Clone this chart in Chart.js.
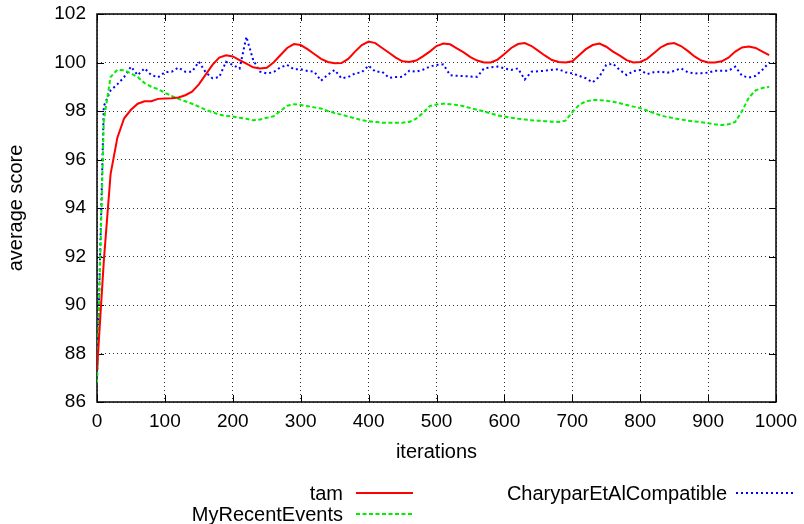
<!DOCTYPE html>
<html>
<head>
<meta charset="utf-8">
<title>average score vs iterations</title>
<script src="https://cdn.jsdelivr.net/npm/chart.js@4.4.1/dist/chart.umd.min.js"></script>
<style>
  html, body { margin: 0; padding: 0; background: #fff; }
  #wrap { width: 804px; height: 524px; }
</style>
</head>
<body>
<div id="wrap"><canvas id="chart" width="804" height="524"></canvas></div>
<script>
// iterations (x values)
const iterations = [
  0, 10, 20, 30, 40, 50, 60, 70, 80, 90,
  100, 110, 120, 130, 140, 150, 160, 170, 180, 190,
  200, 210, 220, 230, 240, 250, 260, 270, 280, 290,
  300, 310, 320, 330, 340, 350, 360, 370, 380, 390,
  400, 410, 420, 430, 440, 450, 460, 470, 480, 490,
  500, 510, 520, 530, 540, 550, 560, 570, 580, 590,
  600, 610, 620, 630, 640, 650, 660, 670, 680, 690,
  700, 710, 720, 730, 740, 750, 760, 770, 780, 790,
  800, 810, 820, 830, 840, 850, 860, 870, 880, 890,
  900, 910, 920, 930, 940, 950, 960, 970, 980, 990
];

const tam = [
  87.3, 91.8, 95.4, 96.9, 97.7, 98.05, 98.3, 98.4, 98.4, 98.5,
  98.52, 98.53, 98.56, 98.65, 98.8, 99.1, 99.5, 99.9, 100.2, 100.3,
  100.25, 100.1, 99.95, 99.8, 99.75, 99.78, 100.0, 100.3, 100.6, 100.76,
  100.72, 100.55, 100.35, 100.15, 100.02, 99.97, 99.98, 100.15, 100.45, 100.72,
  100.86, 100.8, 100.6, 100.4, 100.2, 100.05, 100.02, 100.08, 100.25, 100.45,
  100.68, 100.78, 100.75, 100.58, 100.42, 100.22, 100.08, 100.0, 100.0, 100.12,
  100.35, 100.6, 100.76, 100.8, 100.68, 100.48, 100.28, 100.1, 100.02, 100.0,
  100.05, 100.3, 100.55, 100.72, 100.78, 100.65, 100.45, 100.28, 100.1, 100.0,
  100.02, 100.15, 100.38, 100.62, 100.76, 100.8, 100.68, 100.48, 100.25, 100.08,
  100.0, 100.0, 100.05, 100.2, 100.45, 100.62, 100.66, 100.6, 100.45, 100.3
];

const myRecentEvents = [
  86.8, 97.6, 99.4, 99.7, 99.68, 99.55, 99.4, 99.15, 99.0, 98.9,
  98.75, 98.62, 98.5, 98.4, 98.3, 98.18, 98.05, 97.95, 97.85, 97.8,
  97.77, 97.72, 97.68, 97.62, 97.65, 97.72, 97.78, 98.0, 98.22, 98.28,
  98.25, 98.2, 98.15, 98.1, 98.0, 97.92, 97.85, 97.77, 97.7, 97.62,
  97.58, 97.55, 97.52, 97.52, 97.52, 97.52, 97.55, 97.68, 97.92, 98.2,
  98.27, 98.3, 98.28, 98.25, 98.2, 98.12, 98.05, 97.98, 97.9, 97.82,
  97.77, 97.72, 97.68, 97.65, 97.62, 97.6, 97.58, 97.56, 97.55, 97.6,
  97.95, 98.25, 98.4, 98.45, 98.45, 98.42, 98.38, 98.32, 98.25, 98.18,
  98.12, 98.02, 97.92, 97.82, 97.75, 97.7, 97.65, 97.6, 97.57, 97.54,
  97.5, 97.45, 97.42, 97.45, 97.55, 98.0, 98.55, 98.85, 98.95, 99.0
];

const charyparEtAlCompatible = [
  86.9, 98.2, 98.85, 99.1, 99.4, 99.83, 99.48, 99.76, 99.48, 99.39,
  99.6, 99.62, 99.79, 99.62, 99.62, 100.03, 99.6, 99.35, 99.4, 100.03,
  99.9, 99.75, 101.06, 100.1, 99.62, 99.55, 99.6, 99.8, 99.9, 99.72,
  99.72, 99.65, 99.62, 99.25, 99.5, 99.69, 99.35, 99.4, 99.55, 99.6,
  99.87, 99.62, 99.62, 99.37, 99.4, 99.41, 99.66, 99.62, 99.7, 99.83,
  99.9, 99.92, 99.48, 99.45, 99.44, 99.42, 99.41, 99.76, 99.8, 99.83,
  99.76, 99.69, 99.76, 99.3, 99.62, 99.64, 99.66, 99.7, 99.72, 99.6,
  99.55, 99.45, 99.35, 99.18, 99.42, 99.9, 99.95, 99.69, 99.48, 99.65,
  99.69, 99.52, 99.6, 99.62, 99.58, 99.65, 99.76, 99.6, 99.55, 99.56,
  99.58, 99.66, 99.66, 99.66, 99.83, 99.45, 99.38, 99.45, 99.7, 100.0
];

const xTicks = [0, 100, 200, 300, 400, 500, 600, 700, 800, 900, 1000];
const yTicks = [86, 88, 90, 92, 94, 96, 98, 100, 102];

const FONT = '"Liberation Sans", Arial, sans-serif';

const series = [
  { label: 'tam', values: tam, color: '#ff0000', dash: [], width: 2 },
  { label: 'MyRecentEvents', values: myRecentEvents, color: '#00ee00', dash: [4, 2.5], width: 2 },
  { label: 'CharyparEtAlCompatible', values: charyparEtAlCompatible, color: '#0000ff', dash: [2, 3], width: 2 }
];

function toPoints(values) {
  return values.map((v, i) => ({ x: iterations[i], y: v }));
}

// gnuplot-like frame with inward ticks on all four sides
const framePlugin = {
  id: 'frame',
  beforeDatasetsDraw(chart) {
    const { ctx, chartArea: a, scales } = chart;
    ctx.save();
    ctx.strokeStyle = '#000';
    ctx.lineWidth = 1;
    ctx.setLineDash([]);
    ctx.beginPath();
    xTicks.forEach(t => {
      const px = Math.round(scales.x.getPixelForValue(t)) + 0.5;
      ctx.moveTo(px, a.bottom); ctx.lineTo(px, a.bottom - 7);
      ctx.moveTo(px, a.top); ctx.lineTo(px, a.top + 7);
    });
    yTicks.forEach(t => {
      const py = Math.round(scales.y.getPixelForValue(t)) + 0.5;
      ctx.moveTo(a.left, py); ctx.lineTo(a.left + 7, py);
      ctx.moveTo(a.right, py); ctx.lineTo(a.right - 7, py);
    });
    ctx.stroke();
    ctx.lineWidth = 1.5;
    ctx.strokeRect(a.left, a.top, a.right - a.left, a.bottom - a.top);
    ctx.restore();
  }
};

// legend in gnuplot style: text right aligned, then a line sample
const legendPlugin = {
  id: 'gnuLegend',
  afterDraw(chart) {
    const { ctx } = chart;
    const spots = [
      { textRight: 343, y: 494, x1: 356, x2: 413 },
      { textRight: 343, y: 515, x1: 356, x2: 413 },
      { textRight: 727, y: 494, x1: 736, x2: 793 }
    ];
    ctx.save();
    ctx.font = '20px ' + FONT;
    ctx.textAlign = 'right';
    ctx.textBaseline = 'middle';
    series.forEach((s, i) => {
      const p = spots[i];
      ctx.fillStyle = '#000';
      ctx.fillText(s.label, p.textRight, p.y);
      ctx.strokeStyle = s.color;
      ctx.lineWidth = s.width;
      ctx.setLineDash(s.dash);
      ctx.beginPath();
      ctx.moveTo(p.x1, p.y - 1);
      ctx.lineTo(p.x2, p.y - 1);
      ctx.stroke();
    });
    ctx.restore();
  }
};

const ctx = document.getElementById('chart').getContext('2d');
new Chart(ctx, {
  type: 'line',
  data: {
    datasets: series.map(s => ({
      label: s.label,
      data: toPoints(s.values),
      borderColor: s.color,
      borderWidth: s.width,
      borderDash: s.dash,
      pointRadius: 0,
      tension: 0,
      fill: false
    }))
  },
  options: {
    responsive: false,
    animation: false,
    layout: { padding: { left: 0, top: 14, right: 28, bottom: 60 } },
    plugins: {
      legend: { display: false },
      tooltip: { enabled: false }
    },
    scales: {
      x: {
        type: 'linear',
        min: 0,
        max: 1000,
        afterFit: scale => {
          scale.height = 62;
          scale.paddingLeft = 0;
          scale.paddingRight = 0;
        },
        afterBuildTicks: scale => { scale.ticks = xTicks.map(v => ({ value: v })); },
        ticks: {
          color: '#000', padding: 8, font: { family: FONT, size: 19 },
          callback: v => String(v)
        },
        grid: { color: '#333', lineWidth: 1, drawTicks: false },
        border: { display: false, dash: [1, 3] },
        title: {
          display: true, text: 'iterations', color: '#000',
          padding: 0, font: { family: FONT, size: 20 }
        }
      },
      y: {
        min: 86,
        max: 102,
        afterFit: scale => {
          scale.width = 97;
          scale.paddingTop = 0;
          scale.paddingBottom = 0;
        },
        afterBuildTicks: scale => { scale.ticks = yTicks.map(v => ({ value: v })); },
        ticks: { color: '#000', padding: 11, font: { family: FONT, size: 19 } },
        grid: { color: '#333', lineWidth: 1, drawTicks: false },
        border: { display: false, dash: [1, 3] },
        title: {
          display: true, text: 'average score', color: '#000',
          padding: { top: 4, bottom: 0 }, font: { family: FONT, size: 20 }
        }
      }
    }
  },
  plugins: [framePlugin, legendPlugin]
});
</script>
</body>
</html>
